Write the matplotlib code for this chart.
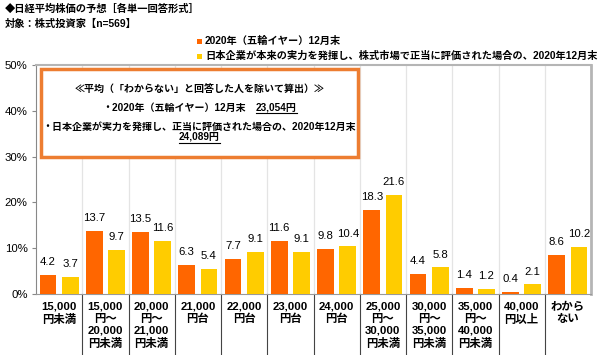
import matplotlib
matplotlib.use('Agg')
import matplotlib.pyplot as plt
import matplotlib.transforms as mtrans
from matplotlib.patches import Rectangle
from matplotlib.lines import Line2D
import numpy as np

plt.rcParams['font.family'] = ['Liberation Sans', 'Noto Sans CJK JP', 'DejaVu Sans']

categories = ['15,000\n円未満', '15,000\n円～\n20,000\n円未満', '20,000\n円～\n21,000\n円未満',
              '21,000\n円台', '22,000\n円台', '23,000\n円台', '24,000\n円台',
              '25,000\n円～\n30,000\n円未満', '30,000\n円～\n35,000\n円未満',
              '35,000\n円～\n40,000\n円未満', '40,000\n円以上', 'わから\nない']
series1_name = '2020年（五輪イヤー）12月末'
series2_name = '日本企業が本来の実力を発揮し、株式市場で正当に評価された場合の、2020年12月末'
series1 = [4.2, 13.7, 13.5, 6.3, 7.7, 11.6, 9.8, 18.3, 4.4, 1.4, 0.4, 8.6]
series2 = [3.7, 9.7, 11.6, 5.4, 9.1, 9.1, 10.4, 21.6, 5.8, 1.2, 2.1, 10.2]
yticks = [0, 10, 20, 30, 40, 50]
ytick_labels = ['0%', '10%', '20%', '30%', '40%', '50%']
title1 = '◆日経平均株価の予想［各単一回答形式］'
title2 = '対象：株式投資家【n=569】'
box_line1 = '≪平均（「わからない」と回答した人を除いて算出）≫'
box_line2a = '・2020年（五輪イヤー）12月末'
box_line2b = '23,054円'
box_line3 = '・日本企業が実力を発揮し、正当に評価された場合の、2020年12月末'
box_line4 = '24,089円'

C1 = '#FF6600'
C2 = '#FFCC00'
W, H = 600, 355

fig = plt.figure(figsize=(6, 3.55), dpi=100)
ax = fig.add_axes([36 / W, 61 / H, 555 / W, 229 / H])

x = np.arange(len(categories))
ax.bar(x - 0.24, series1, 0.36, color=C1, zorder=3)
ax.bar(x + 0.24, series2, 0.36, color=C2, zorder=3)

for xi, v in zip(x, series1):
    ax.text(xi - 0.24, v + 2.8, f'{v:.1f}', ha='center', va='center', fontsize=8.2, zorder=4)
for xi, v in zip(x, series2):
    ax.text(xi + 0.24, v + 2.8, f'{v:.1f}', ha='center', va='center', fontsize=8.2, zorder=4)

ax.set_xlim(-0.5, len(categories) - 0.5)
ax.set_ylim(0, 50)
ax.set_yticks(yticks)
ax.set_yticklabels(ytick_labels, fontsize=8.2)
ax.set_xticks([])
ax.tick_params(axis='y', length=3, pad=3, color='#888888')

for b in np.arange(0.5, len(categories) - 0.5, 1):
    ax.axvline(b, color='#e4e4e4', lw=0.9, zorder=1)

trans = mtrans.blended_transform_factory(ax.transData, ax.transAxes)
for b in np.arange(0.5, len(categories) - 0.5, 1):
    ax.plot([b, b], [0, -0.27], transform=trans, color='#444444', lw=0.8, clip_on=False)

for xi, lab in zip(x, categories):
    ax.text(xi, -0.033, lab, transform=trans, ha='center', va='top', fontsize=8.2,
            fontweight='bold', linespacing=1.25)

ax.spines['left'].set_color('#888888')
ax.spines['bottom'].set_color('#999999')
ax.spines['top'].set_color('#b5b5b5')
ax.spines['top'].set_linewidth(1.5)
ax.spines['right'].set_color('#b5b5b5')
ax.spines['right'].set_linewidth(2)

# text box
ax.add_patch(Rectangle((0.009, 0.598), 0.571, 0.385, transform=ax.transAxes,
                       facecolor='white', edgecolor='#ED7D31', lw=2.5, zorder=5))

def fy(p):
    return 1 - p / H

fs_box = 7.2
cx = 199.5 / W
fig.text(cx, fy(89), box_line1, ha='center', va='center', fontsize=fs_box, fontweight='bold', zorder=6)
t2a = fig.text(0, fy(108), box_line2a, ha='left', va='center', fontsize=fs_box, fontweight='bold', zorder=6)
t2b = fig.text(0, fy(108), box_line2b, ha='left', va='center', fontsize=fs_box, fontweight='bold', zorder=6)
fig.text(cx, fy(126.5), box_line3, ha='center', va='center', fontsize=fs_box, fontweight='bold', zorder=6)
t4 = fig.text(cx, fy(137), box_line4, ha='center', va='center', fontsize=fs_box, fontweight='bold', zorder=6)

# titles
fig.text(5 / W, fy(9), title1, ha='left', va='center', fontsize=7.4, fontweight='bold')
fig.text(5 / W, fy(24), title2, ha='left', va='center', fontsize=7.4, fontweight='bold')

# legend
for yy, c, name in [(41, C1, series1_name), (56, C2, series2_name)]:
    fig.patches.append(Rectangle((197 / W, fy(yy + 2.5)), 5 / W, 5 / H, transform=fig.transFigure,
                                 facecolor=c, edgecolor='none'))
    fig.text(205 / W, fy(yy), name, ha='left', va='center', fontsize=7.35, fontweight='bold')

fig.canvas.draw()
r = fig.canvas.get_renderer()
wa = t2a.get_window_extent(r).width
wb = t2b.get_window_extent(r).width
gap = 10
start = cx * W - (wa + gap + wb) / 2
t2a.set_x(start / W)
t2b.set_x((start + wa + gap) / W)
xb0 = (start + wa + gap) / W
xb1 = (start + wa + gap + wb) / W
fig.lines.append(Line2D([xb0, xb1], [fy(113), fy(113)], transform=fig.transFigure, color='black', lw=0.8, zorder=7))
bb4 = t4.get_window_extent(r)
fig.lines.append(Line2D([bb4.x0 / W, bb4.x1 / W], [fy(142.5), fy(142.5)], transform=fig.transFigure, color='black', lw=0.8, zorder=7))

fig.savefig('out.png', dpi=100)
